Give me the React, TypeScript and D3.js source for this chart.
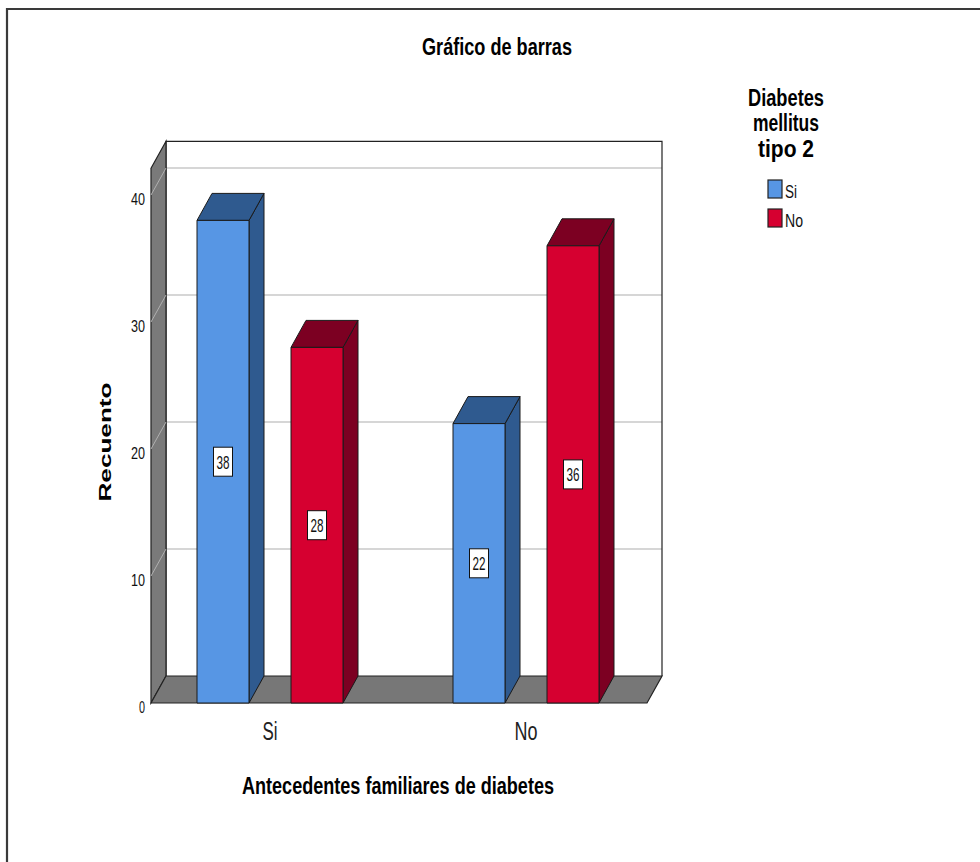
import React from 'react';
import * as d3 from 'd3';

// Counts by family history (categories) and type 2 diabetes status (series)
const categories = ['Si', 'No'];
const seriesNames = ['Si', 'No'];
const siValues = [38, 22];
const noValues = [28, 36];
const yTicks = [0, 10, 20, 30, 40];
const yTopValue = 42.1;

const title = 'Gráfico de barras';
const legendTitle = ['Diabetes', 'mellitus', 'tipo 2'];
const xTitle = 'Antecedentes familiares de diabetes';
const yTitle = 'Recuento';

const W = 980;
const H = 862;
const DX = 15;
const DY = -27;
const plotLeft = 151;
const plotRight = 647;

const frontColors: Record<string, string> = { Si: '#5796e4', No: '#d60030' };
const darkColors: Record<string, string> = { Si: '#2f5a8f', No: '#7c0022' };

const FONT = '"Liberation Sans", Arial, sans-serif';

export default function App() {
  const x = d3.scaleBand<string>().domain(categories).range([142, 654]);
  const inner = d3.scaleBand<string>().domain(seriesNames).range([55, 201]).paddingInner(42 / 94);
  const y = d3.scaleLinear().domain([0, 40]).range([703, 195]);

  const y0 = y(0);
  const yTop = y(yTopValue);

  const pts = (arr: [number, number][]) => arr.map((p) => p.join(',')).join(' ');

  const bars = categories.flatMap((c, i) =>
    seriesNames.map((s) => ({
      cat: c,
      series: s,
      value: s === 'Si' ? siValues[i] : noValues[i],
    }))
  );

  return (
    <svg
      width={W}
      height={H}
      style={{ position: 'absolute', left: 0, top: 0, background: '#fff' }}
      fontFamily={FONT}
    >
      <rect x={0} y={0} width={W} height={H} fill="#fff" />
      {/* outer frame */}
      <path d={`M7,${H} L7,9 L${W},9`} fill="none" stroke="#3a3a3a" strokeWidth={2.2} />

      {/* title */}
      <text x={497} y={55} textAnchor="middle" fontSize={23} fontWeight="bold" textLength={150} lengthAdjust="spacingAndGlyphs">
        {title}
      </text>

      {/* back wall */}
      <rect x={plotLeft + DX} y={yTop + DY} width={plotRight - plotLeft} height={y0 - yTop} fill="#fff" />
      {yTicks.filter((t) => t > 0).map((t) => (
        <line key={`g${t}`} x1={plotLeft + DX} x2={plotRight + DX} y1={y(t) + DY} y2={y(t) + DY} stroke="#c8c8c8" strokeWidth={1.5} />
      ))}
      <path
        d={`M${plotLeft + DX},${y0 + DY} L${plotLeft + DX},${yTop + DY} L${plotRight + DX},${yTop + DY} L${plotRight + DX},${y0 + DY}`}
        fill="none"
        stroke="#222"
        strokeWidth={1.2}
      />

      {/* left wall */}
      <polygon
        points={pts([
          [plotLeft, yTop],
          [plotLeft + DX, yTop + DY],
          [plotLeft + DX, y0 + DY],
          [plotLeft, y0],
        ])}
        fill="#7a7a7a"
        stroke="#222"
        strokeWidth={1.2}
      />
      {yTicks.filter((t) => t > 0).map((t) => (
        <line key={`lw${t}`} x1={plotLeft} y1={y(t)} x2={plotLeft + DX} y2={y(t) + DY} stroke="#b0b0b0" strokeWidth={1} />
      ))}

      {/* floor */}
      <polygon
        points={pts([
          [plotLeft, y0],
          [plotLeft + DX, y0 + DY],
          [plotRight + DX, y0 + DY],
          [plotRight, y0],
        ])}
        fill="#777"
        stroke="#222"
        strokeWidth={1.2}
      />

      {/* bars */}
      {bars.map((b) => {
        const x0 = (x(b.cat) as number) + (inner(b.series) as number);
        const x1 = x0 + inner.bandwidth();
        const yt = y(b.value);
        return (
          <g key={`${b.cat}-${b.series}`} stroke="#1a1a1a" strokeWidth={1} strokeLinejoin="round">
            <polygon
              points={pts([
                [x1, yt],
                [x1 + DX, yt + DY],
                [x1 + DX, y0 + DY],
                [x1, y0],
              ])}
              fill={darkColors[b.series]}
            />
            <polygon
              points={pts([
                [x0, yt],
                [x0 + DX, yt + DY],
                [x1 + DX, yt + DY],
                [x1, yt],
              ])}
              fill={darkColors[b.series]}
            />
            <rect x={x0} y={yt} width={x1 - x0} height={y0 - yt} fill={frontColors[b.series]} />
          </g>
        );
      })}

      {/* value labels */}
      {bars.map((b) => {
        const cx = (x(b.cat) as number) + (inner(b.series) as number) + inner.bandwidth() / 2;
        const cy = y(b.value / 2);
        return (
          <g key={`lab-${b.cat}-${b.series}`}>
            <rect x={cx - 9.5} y={cy - 14.5} width={19} height={29} fill="#fff" stroke="#111" strokeWidth={1} />
            <text x={cx} y={cy + 7} textAnchor="middle" fontSize={19} textLength={13} lengthAdjust="spacingAndGlyphs" fill="#111">
              {String(b.value)}
            </text>
          </g>
        );
      })}

      {/* y tick labels */}
      {yTicks.map((t) => (
        <text
          key={`yt${t}`}
          x={145}
          y={y(t) + 10}
          textAnchor="end"
          fontSize={17}
          textLength={t === 0 ? 6 : 14}
          lengthAdjust="spacingAndGlyphs"
          fill="#111"
        >
          {String(t)}
        </text>
      ))}

      {/* x category labels */}
      {categories.map((c) => (
        <text
          key={`xc${c}`}
          x={(x(c) as number) + x.bandwidth() / 2}
          y={740}
          textAnchor="middle"
          fontSize={25}
          textLength={c === 'Si' ? 15 : 23}
          lengthAdjust="spacingAndGlyphs"
          fill="#222"
        >
          {c}
        </text>
      ))}

      {/* axis titles */}
      <text x={398} y={794} textAnchor="middle" fontSize={23} fontWeight="bold" textLength={312} lengthAdjust="spacingAndGlyphs">
        {xTitle}
      </text>
      <text
        transform={`translate(111,442) rotate(-90)`}
        textAnchor="middle"
        fontSize={17}
        fontWeight="bold"
        textLength={119}
        lengthAdjust="spacingAndGlyphs"
      >
        {yTitle}
      </text>

      {/* legend */}
      {legendTitle.map((t, i) => (
        <text
          key={`lt${i}`}
          x={786}
          y={[106, 131, 157][i]}
          textAnchor="middle"
          fontSize={23}
          fontWeight="bold"
          textLength={[76, 66, 56][i]}
          lengthAdjust="spacingAndGlyphs"
        >
          {t}
        </text>
      ))}
      {seriesNames.map((s, i) => (
        <g key={`lg${s}`}>
          <rect x={768} y={180 + i * 29} width={14} height={18} fill={frontColors[s]} stroke="#222" strokeWidth={1.2} />
          <text x={785} y={198 + i * 29} fontSize={19} textLength={s === 'Si' ? 12 : 18} lengthAdjust="spacingAndGlyphs" fill="#111">
            {s}
          </text>
        </g>
      ))}
    </svg>
  );
}
